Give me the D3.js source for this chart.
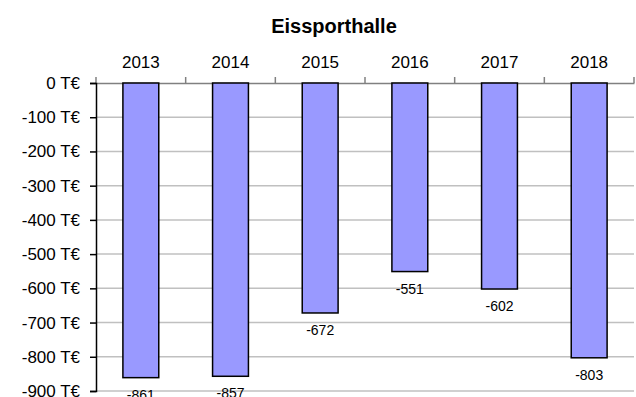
<!DOCTYPE html>
<html>
<head>
<meta charset="utf-8">
<script src="https://cdn.jsdelivr.net/npm/d3@7"></script>
<style>
  body { margin: 0; background: #fff; }
  text { font-family: "Liberation Sans", Arial, sans-serif; fill: #000; }
</style>
</head>
<body>
<svg width="636" height="397"></svg>
<script>
const years = ["2013", "2014", "2015", "2016", "2017", "2018"];
const values = [-861, -857, -672, -551, -602, -803];
const yTicks = [0, -100, -200, -300, -400, -500, -600, -700, -800, -900];

let svg = d3.select("svg");

var x = d3.scaleBand().domain(years).range([96, 634]).paddingInner(0.6).paddingOuter(0.3);
var y = d3.scaleLinear().domain([-900, 0]).range([391, 83]);

// gridlines
svg.append("g")
  .selectAll("line")
  .data(yTicks.slice(1))
  .enter()
  .append("line")
  .attr("x1", 96)
  .attr("x2", 634)
  .attr("y1", d => y(d))
  .attr("y2", d => y(d))
  .style("stroke", "#c0c0c0")
  .style("stroke-width", 1.5);

// category axis on top (at zero)
var xAxis = svg.append("g")
  .attr("transform", "translate(0," + y(0) + ")")
  .call(d3.axisTop(x).tickSize(0).tickPadding(15));
xAxis.select(".domain").style("stroke", "#808080").style("stroke-width", 1.5);
xAxis.selectAll("text").style("font-size", "17px");

// boundary ticks between categories
var bounds = years.map(d => x(d) - x.step() * x.paddingInner() / 2).concat([634]);
xAxis.selectAll(".bound")
  .data(bounds)
  .enter()
  .append("line")
  .attr("x1", d => d)
  .attr("x2", d => d)
  .attr("y1", 0)
  .attr("y2", -6)
  .style("stroke", "#808080")
  .style("stroke-width", 1.5);

// bars
svg.append("g")
  .selectAll("rect")
  .data(values)
  .enter()
  .append("rect")
  .attr("x", (d, i) => x(years[i]))
  .attr("width", x.bandwidth())
  .attr("y", y(0))
  .attr("height", d => y(d) - y(0))
  .attr("fill", "#9999ff")
  .style("stroke", "#000")
  .style("stroke-width", 1.5);

// value labels
svg.append("g")
  .selectAll("text")
  .data(values)
  .enter()
  .append("text")
  .attr("x", (d, i) => x(years[i]) + x.bandwidth() / 2)
  .attr("y", d => y(d) + 22)
  .attr("text-anchor", "middle")
  .style("font-size", "14px")
  .text(d => d);

// value axis
var yAxis = svg.append("g")
  .attr("transform", "translate(96,0)")
  .call(d3.axisLeft(y).tickValues(yTicks).tickSize(6).tickPadding(10)
    .tickFormat(d => d + " T€"));
yAxis.select(".domain").style("stroke", "#000").style("stroke-width", 1.5);
yAxis.selectAll(".tick line").style("stroke", "#000").style("stroke-width", 1.5);
yAxis.selectAll("text").style("font-size", "17px");

// title
svg.append("text")
  .attr("x", 334)
  .attr("y", 33)
  .attr("text-anchor", "middle")
  .style("font-size", "20px")
  .style("font-weight", "bold")
  .text("Eissporthalle");
</script>
</body>
</html>
